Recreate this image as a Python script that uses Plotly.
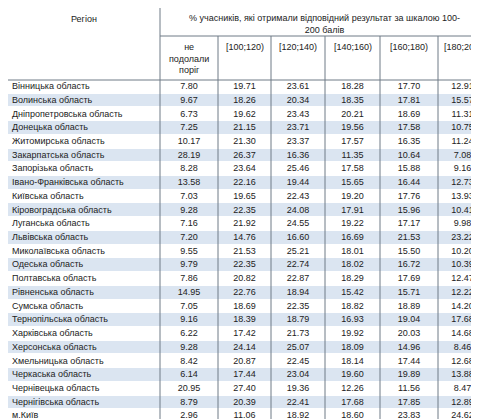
import plotly.graph_objects as go

regions = ["Вінницька область","Волинська область","Дніпропетровська область","Донецька область","Житомирська область",
"Закарпатська область","Запорізька область","Івано-Франківська область","Київська область","Кіровоградська область",
"Луганська область","Львівська область","Миколаївська область","Одеська область","Полтавська область",
"Рівненська область","Сумська область","Тернопільська область","Харківська область","Херсонська область",
"Хмельницька область","Черкаська область","Чернівецька область","Чернігівська область","м.Київ"]
col_headers = ["не<br>подолали<br>поріг","[100;120)","[120;140)","[140;160)","[160;180)","[180;200]"]
below = [7.80,9.67,6.73,7.25,10.17,28.19,8.28,13.58,7.03,9.28,7.16,7.20,9.55,9.79,7.86,14.95,7.05,9.16,6.22,9.28,8.42,6.14,20.95,8.79,2.96]
b100 = [19.71,18.26,19.62,21.15,21.30,26.37,23.64,22.16,19.65,22.35,21.92,14.76,21.53,22.35,20.82,22.76,18.69,18.39,17.42,24.14,20.87,17.44,27.40,20.39,11.06]
b120 = [23.61,20.34,23.43,23.71,23.37,16.36,25.46,19.44,22.43,24.08,24.55,16.60,25.21,22.74,22.87,18.94,22.35,18.79,21.73,25.07,22.45,23.04,19.36,22.41,18.92]
b140 = [18.28,18.35,20.21,19.56,17.57,11.35,17.58,15.65,19.20,17.91,19.22,16.69,18.01,18.02,18.29,15.42,18.82,16.93,19.92,18.09,18.14,19.60,12.26,17.68,18.60]
b160 = [17.70,17.81,18.69,17.58,16.35,10.64,15.88,16.44,17.76,15.96,17.17,21.53,15.50,16.72,17.69,15.71,18.89,19.04,20.03,14.96,17.44,19.89,11.56,17.85,23.83]
b180 = [12.91,15.57,11.31,10.75,11.24,7.08,9.16,12.73,13.93,10.41,9.98,23.22,10.20,10.39,12.47,12.22,14.20,17.68,14.68,8.46,12.68,13.88,8.47,12.89,24.62]
cols = [below, b100, b120, b140, b160, b180]

edges = [0,152,210,263,317,372,430,479]
top, hdr, rh = 28, 72, 13.72
n = len(regions)
yedges = [hdr + i*rh for i in range(n+1)]
ymid = [hdr + (i+0.5)*rh for i in range(n)]
fnt = dict(family="Liberation Sans", size=9, color="#222")

fig = go.Figure()
fig.add_trace(go.Heatmap(x=edges, y=yedges, z=[[i % 2]*7 for i in range(n)],
                         colorscale=[[0,"#ffffff"],[1,"#dbe5f1"]], showscale=False,
                         hoverinfo="skip", ygap=1))
fig.add_trace(go.Scatter(x=[4]*n, y=ymid, text=regions, mode="text",
                         textposition="middle right", textfont=fnt, hoverinfo="skip"))
for j, c in enumerate(cols):
    cx = (edges[j+1] + edges[j+2]) / 2
    fig.add_trace(go.Scatter(x=[cx]*n, y=ymid, text=[f"{v:.2f}" for v in c], mode="text",
                             textposition="middle center", textfont=fnt, hoverinfo="skip"))
    fig.add_annotation(x=cx, y=top+4, text=col_headers[j], showarrow=False, font=fnt,
                       yanchor="top", align="center")
fig.add_annotation(x=76, y=4, text="Регіон", showarrow=False, font=fnt, yanchor="top")
fig.add_annotation(x=316, y=3, text="% учасників, які отримали відповідний результат за шкалою 100-<br>200 балів",
                   showarrow=False, font=fnt, yanchor="top", align="center")
lc = "#6f7a86"
fig.add_shape(type="line", x0=152, x1=152, y0=0, y1=yedges[-1], line=dict(color=lc, width=1))
for e in edges[2:-1]:
    fig.add_shape(type="line", x0=e, x1=e, y0=top, y1=yedges[-1], line=dict(color=lc, width=1))
fig.add_shape(type="line", x0=152, x1=479, y0=top, y1=top, line=dict(color=lc, width=1))
fig.add_shape(type="line", x0=0, x1=479, y0=hdr, y1=hdr, line=dict(color=lc, width=1))
fig.add_shape(type="line", x0=0, x1=479, y0=yedges[-1], y1=yedges[-1], line=dict(color="#333", width=1.5))
fig.update_xaxes(range=[0,479], visible=False, fixedrange=True)
fig.update_yaxes(range=[419,0], visible=False, fixedrange=True)
fig.update_layout(width=479, height=419, margin=dict(l=0,r=0,t=0,b=0), paper_bgcolor="white",
                  plot_bgcolor="white", showlegend=False)
fig.write_html("out.html")
